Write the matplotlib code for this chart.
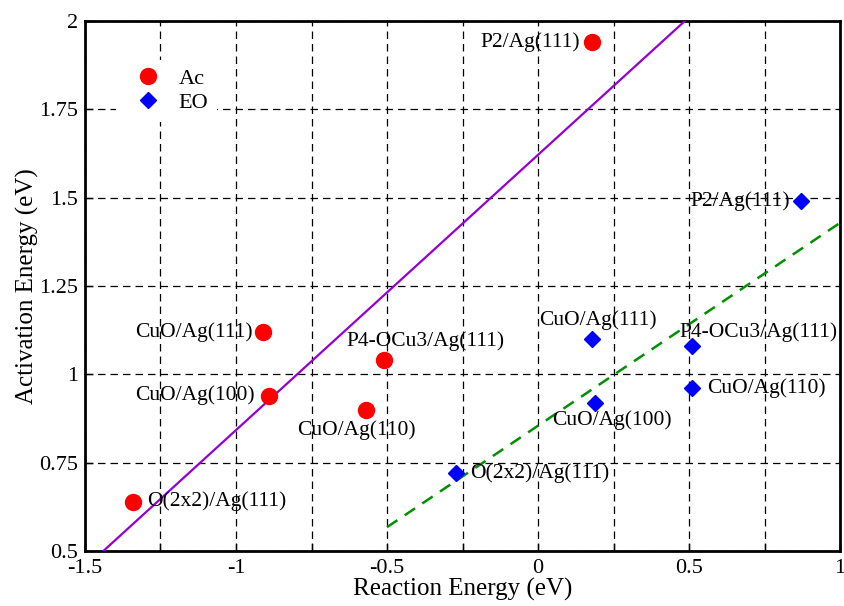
import numpy as np
import matplotlib
matplotlib.use("Agg")
import matplotlib.pyplot as plt

plt.rcParams['font.family'] = ['Liberation Serif', 'DejaVu Serif']

# acetaldehyde (Ac) pathway
ac_names = ["P2/Ag(111)", "CuO/Ag(111)", "P4-OCu3/Ag(111)", "CuO/Ag(100)", "CuO/Ag(110)", "O(2x2)/Ag(111)"]
ac_dE = [0.18, -0.91, -0.51, -0.89, -0.57, -1.34]
ac_Ea = [1.94, 1.12, 1.04, 0.94, 0.90, 0.64]

# ethylene oxide (EO) pathway
eo_names = ["P2/Ag(111)", "CuO/Ag(111)", "P4-OCu3/Ag(111)", "CuO/Ag(110)", "CuO/Ag(100)", "O(2x2)/Ag(111)"]
eo_dE = [0.87, 0.18, 0.51, 0.51, 0.19, -0.27]
eo_Ea = [1.49, 1.10, 1.08, 0.96, 0.92, 0.72]

x_ticks = [-1.5, -1, -0.5, 0, 0.5, 1]
x_labels = ["-1.5", "-1", "-0.5", "0", "0.5", "1"]
y_ticks = [0.5, 0.75, 1, 1.25, 1.5, 1.75, 2]
y_labels = ["0.5", "0.75", "1", "1.25", "1.5", "1.75", "2"]

# label offsets in pixels (dx, dy, ha)
ac_offsets = [(-12, 0, 'right'), (-10, 0, 'right'), (42, 19, 'center'),
              (-14, 0, 'right'), (-9, -20, 'center'), (14, 0, 'left')]
eo_offsets = [(-11, 0, 'right'), (6, 19, 'center'), (66, 14, 'center'),
              (15, 0, 'left'), (17, -18, 'center'), (14, 0, 'left')]

fig = plt.figure(figsize=(8.44, 6.06), dpi=100)
ax = fig.add_axes([0.1007, 0.0908, 0.8946, 0.8745])

# linear fits (BEP relations)
k_ac, b_ac = np.polyfit(ac_dE, ac_Ea, 1)
k_eo, b_eo = np.polyfit(eo_dE, eo_Ea, 1)
xa = np.array([-1.5, 1.0])
ax.plot(xa, k_ac * xa + b_ac, color='#9400d3', lw=1.6, zorder=3)
xe = np.array([-0.5, 1.0])
ax.plot(xe, k_eo * xe + b_eo, color='#009000', lw=1.8, ls=(0, (5, 3.5)), zorder=3)

ax.plot(ac_dE, ac_Ea, 'o', color='red', ms=11.5, ls='none', label='Ac', zorder=4)
ax.plot(eo_dE, eo_Ea, 'D', color='blue', ms=8.5, ls='none', label='EO', zorder=4)

for name, x, y, (dx, dy, ha) in zip(ac_names, ac_dE, ac_Ea, ac_offsets):
    ax.annotate(name, (x, y), xytext=(dx, dy), textcoords='offset pixels',
                ha=ha, va='center', fontsize=15.5, zorder=5)
for name, x, y, (dx, dy, ha) in zip(eo_names, eo_dE, eo_Ea, eo_offsets):
    ax.annotate(name, (x, y), xytext=(dx, dy), textcoords='offset pixels',
                ha=ha, va='center', fontsize=15.5, zorder=5)

ax.set_xlim(-1.5, 1)
ax.set_ylim(0.5, 2)
ax.set_xticks(x_ticks)
ax.set_xticklabels(x_labels)
ax.set_xticks(np.arange(-1.25, 1.0, 0.5), minor=True)
ax.set_yticks(y_ticks)
ax.set_yticklabels(y_labels)
ax.tick_params(which='both', direction='in', length=6, width=1, labelsize=16)
ax.tick_params(axis='x', pad=6)
ax.tick_params(axis='y', pad=5)
ax.grid(True, which='both', color='black', ls=(0, (6, 4)), lw=0.9)

for s in ax.spines.values():
    s.set_linewidth(2)

ax.set_xlabel("Reaction Energy (eV)", fontsize=18, labelpad=0)
ax.set_ylabel("Activation Energy (eV)", fontsize=18, labelpad=0)

leg = ax.legend(loc='upper left', bbox_to_anchor=(0.027, 0.948), fontsize=16,
                frameon=True, fancybox=False, edgecolor='none', framealpha=1,
                handletextpad=0.4, borderpad=0.4, labelspacing=0.15)
leg.set_zorder(6)

fig.savefig("out.png", dpi=100)
